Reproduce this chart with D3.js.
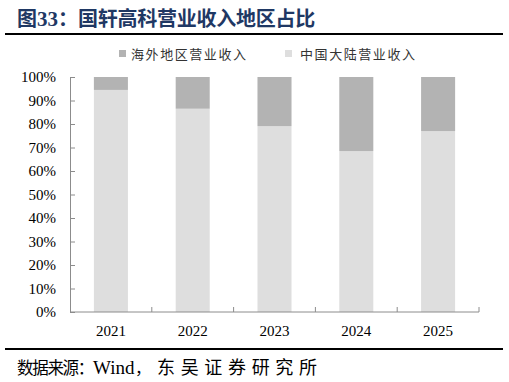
<!DOCTYPE html>
<html><head><meta charset="utf-8">
<script src="https://cdn.jsdelivr.net/npm/d3@7"></script>
<style>body{margin:0;background:#fff}svg{display:block}</style>
</head><body>
<svg id="c" width="509" height="382"></svg>
<script>
const categories = ["2021","2022","2023","2024","2025"];
const mainland = [94.5, 86.5, 79.1, 68.5, 77.0];   // 中国大陆营业收入 %
const overseas = [5.5, 13.5, 20.9, 31.5, 23.0];    // 海外地区营业收入 %
const seriesNames = ["海外地区营业收入","中国大陆营业收入"];
const yTicks = [0,10,20,30,40,50,60,70,80,90,100];

const svg = d3.select("#c");
const serif = "'Liberation Serif','Times New Roman',serif";
const cjk = "'Noto Sans CJK SC','Noto Sans',sans-serif";

// Title
const t = svg.append("text").attr("y",26).attr("font-weight","bold").attr("fill","#1f3864");
t.append("tspan").attr("x",17).attr("font-family",cjk).attr("font-size",20).text("图");
t.append("tspan").attr("x",37).attr("font-family",serif).attr("font-size",21).text("33");
t.append("tspan").attr("x",58).attr("font-family",cjk).attr("font-size",20).text("：");
t.append("tspan").attr("x",78).attr("font-family",cjk).attr("font-size",20)
  .attr("letter-spacing",-0.25).text("国轩高科营业收入地区占比");
svg.append("line").attr("x1",5).attr("x2",503).attr("y1",34).attr("y2",34)
  .attr("stroke","#000").attr("stroke-width",2);

// Scales
const x = d3.scaleBand().domain(categories).range([70,479]).paddingInner(0.584).paddingOuter(0.292);
const y = d3.scaleLinear().domain([0,100]).range([312,77]);

const data = categories.map((c,i)=>({cat:c, mainland:mainland[i], overseas:overseas[i]}));
const stack = d3.stack().keys(["mainland","overseas"])(data);
const colors = {mainland:"#dedede", overseas:"#b3b3b3"};

svg.append("g").selectAll("g").data(stack).join("g")
  .attr("fill",d=>colors[d.key])
  .selectAll("rect").data(d=>d).join("rect")
  .attr("x",d=>x(d.data.cat)).attr("width",x.bandwidth())
  .attr("y",d=>y(d[1])).attr("height",d=>y(d[0])-y(d[1]));

// Y axis
const yAxis = d3.axisLeft(y).tickValues(yTicks).tickFormat(d=>d+"%").tickSizeInner(-5).tickSizeOuter(-5).tickPadding(14);
const gy = svg.append("g").attr("transform","translate(70,0)").call(yAxis);
gy.select(".domain").attr("stroke","#8c8c8c");
gy.selectAll(".tick line").attr("stroke","#8c8c8c");
gy.selectAll("text").attr("font-family",serif).attr("font-size",15).attr("fill","#000");

// X axis
const bounds = d3.range(categories.length+1).map(i=>70+i*(409/categories.length));
const gx = svg.append("g").attr("transform","translate(0,312)");
gx.append("line").attr("x1",70).attr("x2",479).attr("stroke","#8c8c8c");
gx.selectAll("line.t").data(bounds.slice(1)).join("line").attr("class","t")
  .attr("x1",d=>d).attr("x2",d=>d).attr("y1",0).attr("y2",-5).attr("stroke","#8c8c8c");
gx.selectAll("text").data(categories).join("text")
  .attr("x",d=>x(d)+x.bandwidth()/2).attr("y",24).attr("text-anchor","middle")
  .attr("font-family",serif).attr("font-size",15).attr("fill","#000").text(d=>d);

// Legend
const leg = [{name:seriesNames[0],color:colors.overseas,x:119},{name:seriesNames[1],color:colors.mainland,x:285}];
const lg = svg.append("g");
leg.forEach((l,i)=>{
  lg.append("rect").attr("x",l.x).attr("y",50).attr("width",7).attr("height",7).attr("fill",l.color);
  lg.append("text").attr("x",l.x+(i===0?12:15)).attr("y",58.5)
    .attr("font-family",cjk).attr("font-size",13).attr("fill","#333")
    .attr("textLength",115).attr("lengthAdjust","spacing").text(l.name);
});

// Source
svg.append("line").attr("x1",5).attr("x2",503).attr("y1",349).attr("y2",349)
  .attr("stroke","#000").attr("stroke-width",2);
const src = svg.append("g").attr("fill","#000");
src.append("text").attr("x",17).attr("y",374).attr("font-family",cjk).attr("font-size",16.5)
  .attr("letter-spacing",-1.3).text("数据来源：");
src.append("text").attr("x",93).attr("y",374).attr("font-family",serif).attr("font-size",19).text("Wind");
src.append("text").attr("x",135).attr("y",374).attr("font-family",cjk).attr("font-size",16).text("，");
src.append("text").attr("x",157).attr("y",374).attr("font-family",cjk).attr("font-size",18)
  .attr("textLength",160).attr("lengthAdjust","spacing").text("东吴证券研究所");
</script>
</body></html>
